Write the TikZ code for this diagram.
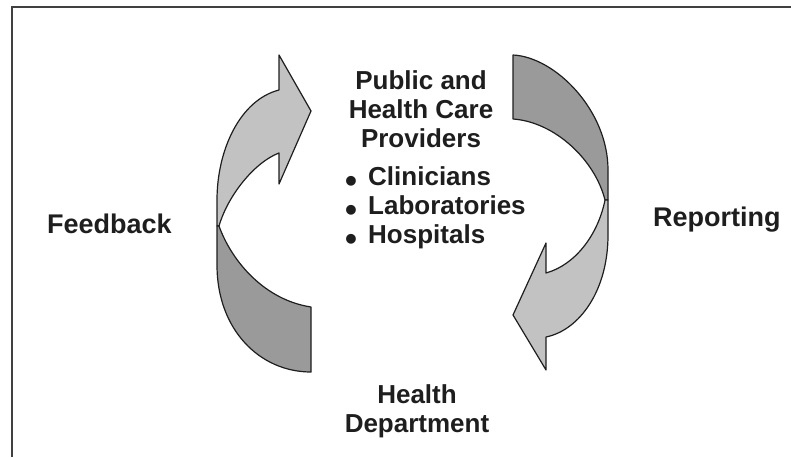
\documentclass[tikz,border=0pt]{standalone}
\usepackage{fontspec}
\setmainfont{Liberation Sans}
\usepackage{tikz}
\usetikzlibrary{positioning}

\definecolor{inkgray}{HTML}{1E1E1E}
\definecolor{lightband}{HTML}{C2C2C2}
\definecolor{darkband}{HTML}{9A9A9A}
\newcommand{\bigbullet}{\makebox[23pt][l]{\smash{\raisebox{-7pt}{\fontsize{34}{34}\selectfont\textbullet}}}}

\begin{document}
\begin{tikzpicture}[x=1pt,y=-1pt,
  frame/.style={draw=inkgray!85,line width=2pt},
  band/.style={draw=inkgray,line width=1.2pt,line join=round},
  label/.style={font=\fontsize{26}{29}\selectfont\bfseries,text=inkgray,inner sep=0pt},
  side/.style={font=\fontsize{27}{30}\selectfont\bfseries,text=inkgray,inner sep=0pt,anchor=base west}]
\useasboundingbox (0,0) rectangle (791,457);
\draw[frame] (12,457) -- (12,7) -- (791,7);

% feedback arrow (left)
\draw[band,fill=lightband] (219,226) -- (217,226) -- (217,200)
  .. controls (217,150) and (240,100) .. (279,90) -- (279,55) -- (311,111)
  -- (279,184) -- (279,153) .. controls (255,162) and (228,195) .. (219,226) -- cycle;
\draw[band,fill=darkband] (219,226) .. controls (232,262) and (265,300) .. (311,307)
  -- (311,372) .. controls (260,372) and (217,330) .. (217,265) -- (217,226) -- cycle;

% reporting arrow (right)
\draw[band,fill=darkband] (513,55) .. controls (555,57) and (608,110) .. (608,170)
  -- (608,200) -- (605,200) .. controls (595,160) and (555,122) .. (513,119) -- cycle;
\draw[band,fill=lightband] (605,200) .. controls (598,235) and (575,265) .. (546,273)
  -- (546,243) -- (513,315) -- (546,370) -- (546,337)
  .. controls (580,330) and (608,290) .. (608,235) -- (608,200) -- cycle;

\node[label,align=center,anchor=north] (prov) at (421,70) {Public and\\Health Care\\Providers};
\node[label,align=left,anchor=north west] (list) at (345,166)
  {\bigbullet Clinicians\\\bigbullet Laboratories\\\bigbullet Hospitals};
\node[label,align=center,anchor=north] (dept) at (417,384) {Health\\Department};
\node[side] (feed) at (47,233) {Feedback};
\node[side] (rep) at (653,226) {Reporting};
\end{tikzpicture}
\end{document}
